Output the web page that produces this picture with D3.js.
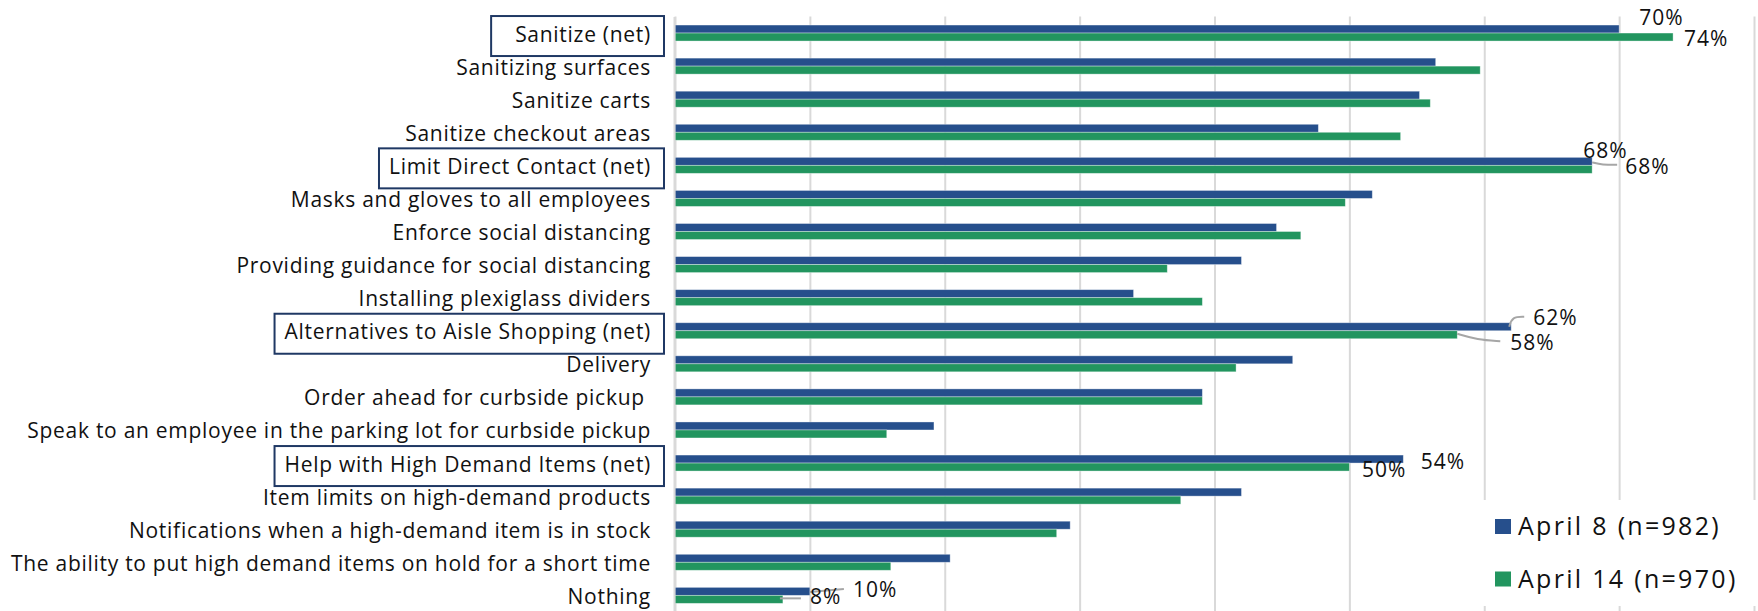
<!DOCTYPE html>
<html>
<head>
<meta charset="utf-8">
<script src="https://cdn.jsdelivr.net/npm/d3@7"></script>
<style>
  html, body { margin: 0; padding: 0; background: #ffffff; }
  svg { display: block; font-family: "Open Sans", "Noto Sans", sans-serif; }
</style>
</head>
<body>
<svg id="chart" width="1758" height="611"></svg>
<script>
// Store safety measures, share of shoppers (%), two survey waves
const categories = [
  "Sanitize (net)",
  "Sanitizing surfaces",
  "Sanitize carts",
  "Sanitize checkout areas",
  "Limit Direct Contact (net)",
  "Masks and gloves to all employees",
  "Enforce social distancing",
  "Providing guidance for social distancing",
  "Installing plexiglass dividers",
  "Alternatives to Aisle Shopping (net)",
  "Delivery",
  "Order ahead for curbside pickup ",
  "Speak to an employee in the parking lot for curbside pickup",
  "Help with High Demand Items (net)",
  "Item limits on high-demand products",
  "Notifications when a high-demand item is in stock",
  "The ability to put high demand items on hold for a short time",
  "Nothing"
];
const netCategories = [
  "Sanitize (net)",
  "Limit Direct Contact (net)",
  "Alternatives to Aisle Shopping (net)",
  "Help with High Demand Items (net)"
];
const seriesNames = ["April 8 (n=982)", "April 14 (n=970)"];
const april8  = [70, 56.4, 55.2, 47.7, 68, 51.7, 44.6, 42.0, 34.0, 62, 45.8, 39.1, 19.2, 54, 42.0, 29.3, 20.4, 10];
const april14 = [74, 59.7, 56.0, 53.8, 68, 49.7, 46.4, 36.5, 39.1, 58, 41.6, 39.1, 15.7, 50, 37.5, 28.3, 16.0, 8];
const gridTicks = [0, 10, 20, 30, 40, 50, 60, 70, 80];

const seriesValues = [april8, april14];
const colors = ["#264f8c", "#22955f"];

// Placement of the value labels (offsets from the bar tip) and their leader lines
const valueLabels = [
  { row: 0,  s: 0, dx: 20, dy: -4.5 },
  { row: 0,  s: 1, dx: 11, dy: 9 },
  { row: 4,  s: 0, dx: -9, dy: -3.5 },
  { row: 4,  s: 1, dx: 33, dy: 4.7, leader: [[0, -7], [10, -4.5], [25, -4.5]] },
  { row: 9,  s: 0, dx: 22, dy: -1.7, leader: [[-2, 0], [1, -10], [13, -10]] },
  { row: 9,  s: 1, dx: 53, dy: 15.3, leader: [[0, -1], [20, 5], [43, 6.5]] },
  { row: 13, s: 0, dx: 17.5, dy: 10 },
  { row: 13, s: 1, dx: 12.6, dy: 9.6 },
  { row: 17, s: 0, dx: 43, dy: 6, leader: [[0, 0.6], [34, -2.4]] },
  { row: 17, s: 1, dx: 27, dy: 4.5, leader: [[-3, -1], [18, -1]] }
];

const svg = d3.select("#chart");

const x = d3.scaleLinear().domain([0, 80]).range([675, 1754]);
const y = d3.scaleBand().domain(categories).range([16.5, 611.9]);
const sub = d3.scaleBand().domain(seriesNames)
  .range([y.bandwidth() / 2 - 8, y.bandwidth() / 2 + 8]);

// vertical gridlines
const grid = svg.append("g")
  .attr("transform", `translate(0,${y.range()[0]})`)
  .call(d3.axisBottom(x).tickValues(gridTicks).tickFormat("")
    .tickSize(y.range()[1] - y.range()[0] + 5).tickSizeOuter(0));
grid.select(".domain").remove();
grid.selectAll(".tick line").attr("stroke", "#d9d9d9").attr("stroke-width", 2);

// bars
const rows = categories.map((c, i) => ({ cat: c, vals: seriesValues.map(v => v[i]) }));
const rowG = svg.append("g").selectAll("g").data(rows).join("g")
  .attr("transform", d => `translate(0,${y(d.cat)})`);
rowG.selectAll("rect")
  .data(d => d.vals.map((v, s) => ({ v, s })))
  .join("rect")
  .attr("x", x(0))
  .attr("y", d => sub(seriesNames[d.s]))
  .attr("width", d => x(d.v) - x(0))
  .attr("height", sub.bandwidth())
  .attr("fill", d => colors[d.s])
  .attr("stroke", "rgba(255,255,255,0.45)")
  .attr("stroke-width", 0.8);

// category axis
const yAxis = svg.append("g")
  .attr("transform", `translate(${x(0) - 1},0)`)
  .call(d3.axisLeft(y).tickSize(0).tickSizeOuter(0));
yAxis.select(".domain").attr("stroke", "#d9d9d9").attr("stroke-width", 2);
yAxis.selectAll(".tick text")
  .attr("x", -23)
  .attr("dy", null)
  .attr("y", 8.5)
  .attr("fill", "#111111")
  .style("font-family", "'Open Sans', sans-serif")
  .style("font-size", "21px")
  .style("letter-spacing", "0.72px")
  .style("white-space", "pre");

// frames around the summary rows
const boxPad = { "Sanitize (net)": 24 };
yAxis.selectAll(".tick").each(function (d) {
  if (!netCategories.includes(d)) return;
  const t = d3.select(this).select("text").node();
  const bb = t.getBBox();
  const left = bb.x - (boxPad[d] || 10);
  const right = -10;
  d3.select(this).insert("rect", "text")
    .attr("x", left)
    .attr("y", -17)
    .attr("width", right - left)
    .attr("height", 40)
    .attr("fill", "none")
    .attr("stroke", "#1f3864")
    .attr("stroke-width", 2);
});

// value labels with leaders
const lblG = svg.append("g");
valueLabels.forEach(l => {
  const v = seriesValues[l.s][l.row];
  const cat = categories[l.row];
  const tipX = x(v);
  const midY = y(cat) + sub(seriesNames[l.s]) + sub.bandwidth() / 2;
  if (l.leader) {
    lblG.append("path")
      .attr("d", d3.line().curve(d3.curveBasis)(l.leader.map(p => [tipX + p[0], midY + p[1]])))
      .attr("fill", "none")
      .attr("stroke", "#a6a6a6")
      .attr("stroke-width", 2);
  }
  lblG.append("text")
    .attr("x", tipX + l.dx)
    .attr("y", midY + l.dy)
    .attr("fill", "#111111")
    .style("font-size", "21px")
    .style("letter-spacing", "1px")
    .text(d3.format("d")(v) + "%");
});

// legend
const legend = svg.append("g");
legend.append("rect").attr("x", 1478).attr("y", 500).attr("width", 280).attr("height", 106).attr("fill", "#ffffff");
seriesNames.forEach((name, i) => {
  const g = legend.append("g").attr("transform", `translate(1495,${519 + i * 52.5})`);
  g.append("rect").attr("width", 16).attr("height", 15).attr("fill", colors[i]);
  g.append("text").attr("x", 23).attr("y", 16)
    .attr("fill", "#111111")
    .style("font-size", "25px")
    .style("letter-spacing", "2.3px")
    .text(name);
});
</script>
</body>
</html>
